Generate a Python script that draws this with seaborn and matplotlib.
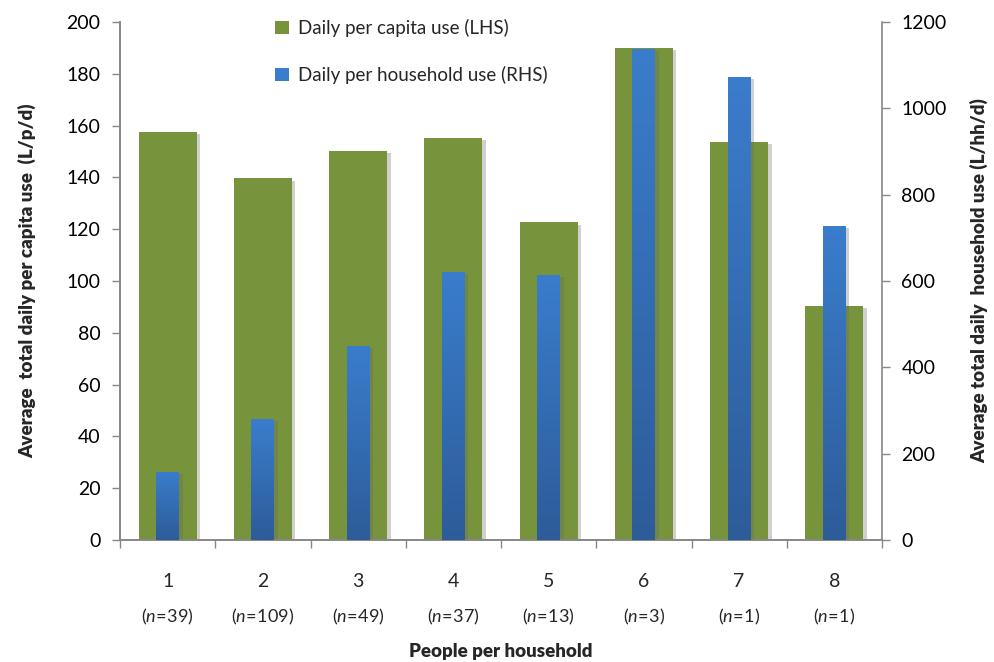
import numpy as np
import pandas as pd
import matplotlib
matplotlib.use("Agg")
import matplotlib.pyplot as plt
import matplotlib.patheffects as pe
from matplotlib.patches import Patch
from matplotlib.colors import LinearSegmentedColormap
import seaborn as sns

# ---- data ----
people = ["1", "2", "3", "4", "5", "6", "7", "8"]
sample_n = ["39", "109", "49", "37", "13", "3", "1", "1"]
per_capita = [157.5, 139.6, 150.2, 155.2, 122.6, 190.0, 153.6, 90.5]
per_household = [158, 280, 449, 622, 614, 1137, 1073, 727]

GREEN = "#77933C"
BLUE_TOP = "#3A7DCC"
BLUE_BOT = "#2D5C99"
GRAY = "#878787"

sns.set_theme(style="white")
plt.rcParams["font.family"] = ["Lato", "DejaVu Sans"]
plt.rcParams["mathtext.fontset"] = "custom"
plt.rcParams["mathtext.it"] = "Lato:italic"
plt.rcParams["mathtext.rm"] = "Lato"

df = pd.DataFrame({"people": people, "pc": per_capita, "hh": per_household})

fig = plt.figure(figsize=(9.94, 6.62), dpi=100)
ax = fig.add_axes([120 / 994, 1 - 540 / 662, 762 / 994, 518 / 662])
ax2 = ax.twinx()

sns.barplot(data=df, x="people", y="pc", ax=ax, color=GREEN, width=0.61,
            saturation=1, zorder=2)
sns.barplot(data=df, x="people", y="hh", ax=ax2, color=BLUE_TOP, width=0.24,
            saturation=1, zorder=2)

shadow = [pe.SimplePatchShadow(offset=(2.5, -1.5), shadow_rgbFace="#666666", alpha=0.3),
          pe.Normal()]
for p in ax.patches:
    p.set_edgecolor("none")
    p.set_path_effects(shadow)

cmap = LinearSegmentedColormap.from_list("b", [BLUE_BOT, BLUE_TOP])
grad = np.linspace(0, 1, 256).reshape(-1, 1)
for p in ax2.patches:
    p.set_edgecolor("none")
    p.set_path_effects(shadow)
    x0, y0 = p.get_x(), p.get_y()
    w, h = p.get_width(), p.get_height()
    im = ax2.imshow(grad, cmap=cmap, origin="lower", aspect="auto",
                    extent=[x0, x0 + w, y0, y0 + h], zorder=3,
                    interpolation="bilinear")
    im.set_clip_path(p)

ax.set_xlim(-0.5, 7.5)
ax.set_ylim(0, 200)
ax2.set_ylim(0, 1200)
ax.set_yticks(np.arange(0, 201, 20))
ax2.set_yticks(np.arange(0, 1201, 200))

# x ticks: marks at category boundaries, labels at centres
ax.set_xticks(np.arange(-0.5, 8.0, 1.0))
ax.set_xticklabels([])
ax.set_xticks(np.arange(len(people)), minor=True)
ax.set_xticklabels(people, minor=True)
ax.tick_params(axis="x", which="minor", length=0, pad=24, labelsize=14)
ax.tick_params(axis="x", which="major", length=6, width=1, color=GRAY,
               direction="out", bottom=True)
ax.tick_params(axis="y", length=6, width=1, color=GRAY, direction="out",
               left=True, labelsize=14, pad=8, labelcolor="black")
ax2.tick_params(axis="y", length=6, width=1, color=GRAY, direction="out",
                right=True, labelsize=14, pad=8, labelcolor="black")

for i, n in enumerate(sample_n):
    ax.text(i, -0.148, "($\\mathit{n\\!=\\!" + n + "}$)", transform=ax.get_xaxis_transform(),
            ha="center", va="center", fontsize=13)

for a in (ax, ax2):
    for s in a.spines.values():
        s.set_color(GRAY)
        s.set_linewidth(1.2)
    a.spines["top"].set_visible(False)
    a.grid(False)
ax.spines["right"].set_visible(False)

ax.set_xlabel("People per household", fontsize=13.5, fontweight="heavy", labelpad=38)
ax.set_ylabel("Average  total daily per capita use  (L/p/d)", fontsize=13.5,
              fontweight="heavy", labelpad=22)
ax2.set_ylabel("Average total daily  household use (L/hh/d)", fontsize=13.5,
               fontweight="heavy", labelpad=17)

handles = [Patch(facecolor=GREEN, edgecolor="none"),
           Patch(facecolor=BLUE_TOP, edgecolor="none")]
fig.legend(handles, ["Daily per capita use (LHS)", "Daily per household use (RHS)"],
           loc="upper left", bbox_to_anchor=(258 / 994, 1 - 2 / 662),
           frameon=False, fontsize=13.5, handlelength=0.75, handleheight=0.75,
           handletextpad=0.5, labelspacing=1.55)

fig.savefig("out.png", dpi=100)
